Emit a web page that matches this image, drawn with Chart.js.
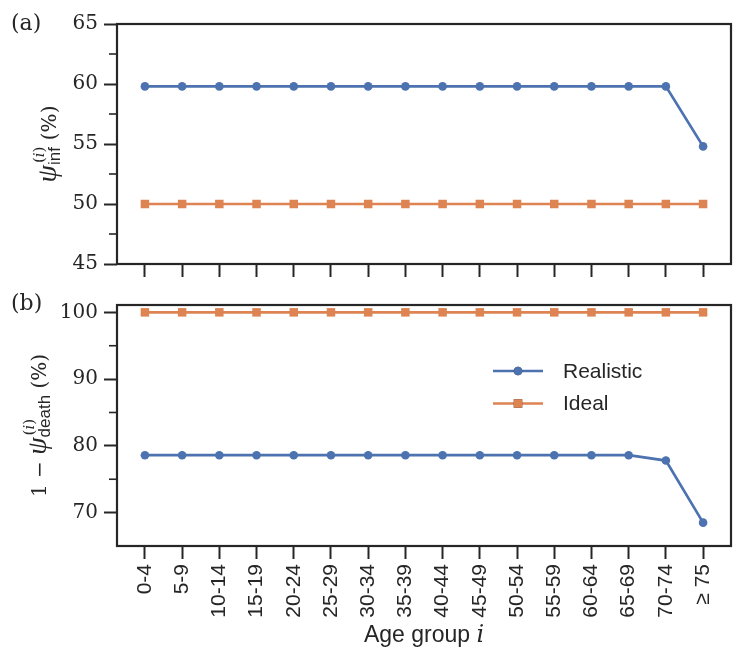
<!DOCTYPE html>
<html>
<head>
<meta charset="utf-8">
<script src="https://cdn.jsdelivr.net/npm/chart.js@4.4.1/dist/chart.umd.min.js"></script>
<style>
  body { margin: 0; background: #fff; }
  #wrap { position: relative; width: 747px; height: 670px; }
  canvas { position: absolute; left: 0; }
</style>
</head>
<body>
<div id="wrap">
  <canvas id="infChart" width="747" height="300" style="top:0"></canvas>
  <canvas id="deathChart" width="747" height="390" style="top:280px"></canvas>
</div>
<script>
// age groups on the x axis
const ageGroups = ["0-4", "5-9", "10-14", "15-19", "20-24", "25-29", "30-34", "35-39",
  "40-44", "45-49", "50-54", "55-59", "60-64", "65-69", "70-74", "\u2265 75"];
// panel (a): psi_inf in %
const realisticInf = [59.8, 59.8, 59.8, 59.8, 59.8, 59.8, 59.8, 59.8, 59.8, 59.8, 59.8, 59.8, 59.8, 59.8, 59.8, 54.8];
const idealInf = [50, 50, 50, 50, 50, 50, 50, 50, 50, 50, 50, 50, 50, 50, 50, 50];
// panel (b): 1 - psi_death in %
const realisticDeath = [78.6, 78.6, 78.6, 78.6, 78.6, 78.6, 78.6, 78.6, 78.6, 78.6, 78.6, 78.6, 78.6, 78.6, 77.8, 68.5];
const idealDeath = [100, 100, 100, 100, 100, 100, 100, 100, 100, 100, 100, 100, 100, 100, 100, 100];
// y ticks
const infTicks = [45, 50, 55, 60, 65];
const infMinor = [47.5, 52.5, 57.5, 62.5];
const deathTicks = [70, 80, 90, 100];
const deathMinor = [75, 85, 95];

const ink = "#262626";
const blue = "#4C72B0";
const orange = "#DD8452";
const SERIF = '"DejaVu Serif"';
const GREEK = '"Liberation Serif"';
const SANS = '"Liberation Sans", Arial, sans-serif';

function toPoints(arr) {
  return arr.map((v, i) => ({ x: i, y: v }));
}

function makeDatasets(realistic, ideal) {
  return [
    {
      label: "Realistic", data: toPoints(realistic),
      borderColor: blue, backgroundColor: blue, borderWidth: 2.7,
      pointStyle: "circle", pointRadius: 4.3, pointBorderWidth: 0, pointBackgroundColor: blue
    },
    {
      label: "Ideal", data: toPoints(ideal),
      borderColor: orange, backgroundColor: orange, borderWidth: 2.7,
      pointStyle: "rect", pointRadius: 6, pointBorderWidth: 0, pointBackgroundColor: orange
    }
  ];
}

// draw a list of text runs along a line, return end x
function drawRuns(ctx, runs, x, y) {
  runs.forEach(r => {
    ctx.font = r.f;
    ctx.fillText(r.t, x, y + (r.dy || 0));
    x += ctx.measureText(r.t).width;
  });
  return x;
}
function runsWidth(ctx, runs) {
  let w = 0;
  runs.forEach(r => { ctx.font = r.f; w += ctx.measureText(r.t).width; });
  return w;
}
function pieceWidth(ctx, p) {
  if (p.runs) return runsWidth(ctx, p.runs);
  return Math.max(runsWidth(ctx, p.sup) + 2, runsWidth(ctx, p.sub));
}
// rotated axis title with super/subscripts
function drawYTitle(ctx, pieces, baseX, centerY) {
  ctx.save();
  ctx.fillStyle = ink;
  ctx.textBaseline = "alphabetic";
  ctx.textAlign = "left";
  ctx.translate(baseX, centerY);
  ctx.rotate(-Math.PI / 2);
  let total = 0;
  pieces.forEach(p => { total += pieceWidth(ctx, p); });
  let x = -total / 2;
  pieces.forEach(p => {
    if (p.runs) {
      x = drawRuns(ctx, p.runs, x, 0);
    } else {
      const w = pieceWidth(ctx, p);
      drawRuns(ctx, p.sup, x + 2, -12);
      drawRuns(ctx, p.sub, x, 4);
      x += w;
    }
  });
  ctx.restore();
}

const supI = [
  { t: "(", f: "15px " + SERIF },
  { t: "i", f: "italic 15px " + SERIF },
  { t: ")", f: "15px " + SERIF }
];

function decorPlugin(cfg) {
  return {
    id: "decor",
    afterDraw(chart) {
      const ctx = chart.ctx;
      const a = chart.chartArea;
      const y = chart.scales.y;
      ctx.save();
      // minor ticks
      ctx.strokeStyle = ink;
      ctx.lineWidth = 1.6;
      cfg.minor.forEach(v => {
        const py = y.getPixelForValue(v);
        ctx.beginPath();
        ctx.moveTo(a.left - 8, py);
        ctx.lineTo(a.left, py);
        ctx.stroke();
      });
      // frame
      ctx.lineWidth = 2.2;
      ctx.strokeRect(a.left, a.top, a.right - a.left, a.bottom - a.top);
      // panel label
      ctx.fillStyle = ink;
      ctx.font = "22px " + SERIF;
      ctx.textAlign = "left";
      ctx.textBaseline = "alphabetic";
      ctx.fillText(cfg.panel, 11, 30);
      ctx.restore();

      drawYTitle(ctx, cfg.title, cfg.titleX, (a.top + a.bottom) / 2);

      if (cfg.legend) {
        ctx.save();
        chart.data.datasets.forEach((ds, i) => {
          const ly = 91 + i * 32.5;
          ctx.strokeStyle = ds.borderColor;
          ctx.lineWidth = ds.borderWidth;
          ctx.beginPath();
          ctx.moveTo(493, ly);
          ctx.lineTo(543, ly);
          ctx.stroke();
          Chart.helpers.drawPoint(ctx, {
            pointStyle: ds.pointStyle, radius: ds.pointRadius, borderWidth: 0, rotation: 0
          }, 518, ly);
          ctx.fillStyle = ds.pointBackgroundColor;
          ctx.fill();
          ctx.fillStyle = ink;
          ctx.font = "21px " + SANS;
          ctx.textAlign = "left";
          ctx.textBaseline = "middle";
          ctx.fillText(ds.label, 563, ly + 1);
        });
        ctx.restore();
      }

      if (cfg.xTitle) {
        ctx.save();
        ctx.fillStyle = ink;
        ctx.textBaseline = "alphabetic";
        ctx.textAlign = "left";
        const runs = [
          { t: "Age group ", f: "23px " + SANS },
          { t: "i", f: "italic 24px " + SERIF }
        ];
        const w = runsWidth(ctx, runs);
        drawRuns(ctx, runs, (a.left + a.right) / 2 - w / 2, 362);
        ctx.restore();
      }
    }
  };
}

function makeOptions(yMin, yMax, yTicks, showX, topPad, xHeight) {
  return {
    responsive: false,
    animation: false,
    layout: { padding: { top: topPad, right: 16, left: 0, bottom: 0 } },
    plugins: { legend: { display: false }, tooltip: { enabled: false } },
    elements: { line: { tension: 0 } },
    scales: {
      x: {
        type: "linear",
        min: -0.75,
        max: 15.75,
        afterBuildTicks(scale) { scale.ticks = ageGroups.map((_, i) => ({ value: i })); },
        afterFit(scale) { scale.height = xHeight; },
        border: { display: false },
        grid: { drawOnChartArea: false, drawTicks: true, tickLength: 13, tickWidth: 2, tickColor: ink },
        ticks: {
          display: showX,
          autoSkip: false,
          minRotation: 90,
          maxRotation: 90,
          padding: 5,
          color: ink,
          font: { family: SANS, size: 21 },
          callback: v => ageGroups[v]
        }
      },
      y: {
        min: yMin,
        max: yMax,
        afterBuildTicks(scale) { scale.ticks = yTicks.map(v => ({ value: v })); },
        afterFit(scale) { scale.width = 117; },
        border: { display: false },
        grid: { drawOnChartArea: false, drawTicks: true, tickLength: 13, tickWidth: 2, tickColor: ink },
        ticks: { color: ink, padding: 6, font: { family: SERIF, size: 20 } }
      }
    }
  };
}

new Chart(document.getElementById("infChart"), {
  type: "line",
  data: { datasets: makeDatasets(realisticInf, idealInf) },
  options: makeOptions(45, 65, infTicks, false, 24, 36),
  plugins: [decorPlugin({
    minor: infMinor, panel: "(a)", titleX: 56, legend: false, xTitle: false,
    title: [
      { runs: [{ t: "\u03C8", f: "italic 28px " + GREEK }] },
      { sup: supI, sub: [{ t: "inf", f: "17px " + SANS }] },
      { runs: [{ t: " (%)", f: "20px " + SERIF }] }
    ]
  })]
});

new Chart(document.getElementById("deathChart"), {
  type: "line",
  data: { datasets: makeDatasets(realisticDeath, idealDeath) },
  options: makeOptions(65, 101.1, deathTicks, true, 25, 124),
  plugins: [decorPlugin({
    minor: deathMinor, panel: "(b)", titleX: 46, legend: true, xTitle: true,
    title: [
      { runs: [{ t: "1 \u2212 ", f: "20px " + SERIF }, { t: "\u03C8", f: "italic 28px " + GREEK }] },
      { sup: supI, sub: [{ t: "death", f: "17px " + SANS }] },
      { runs: [{ t: " (%)", f: "20px " + SERIF }] }
    ]
  })]
});
</script>
</body>
</html>
